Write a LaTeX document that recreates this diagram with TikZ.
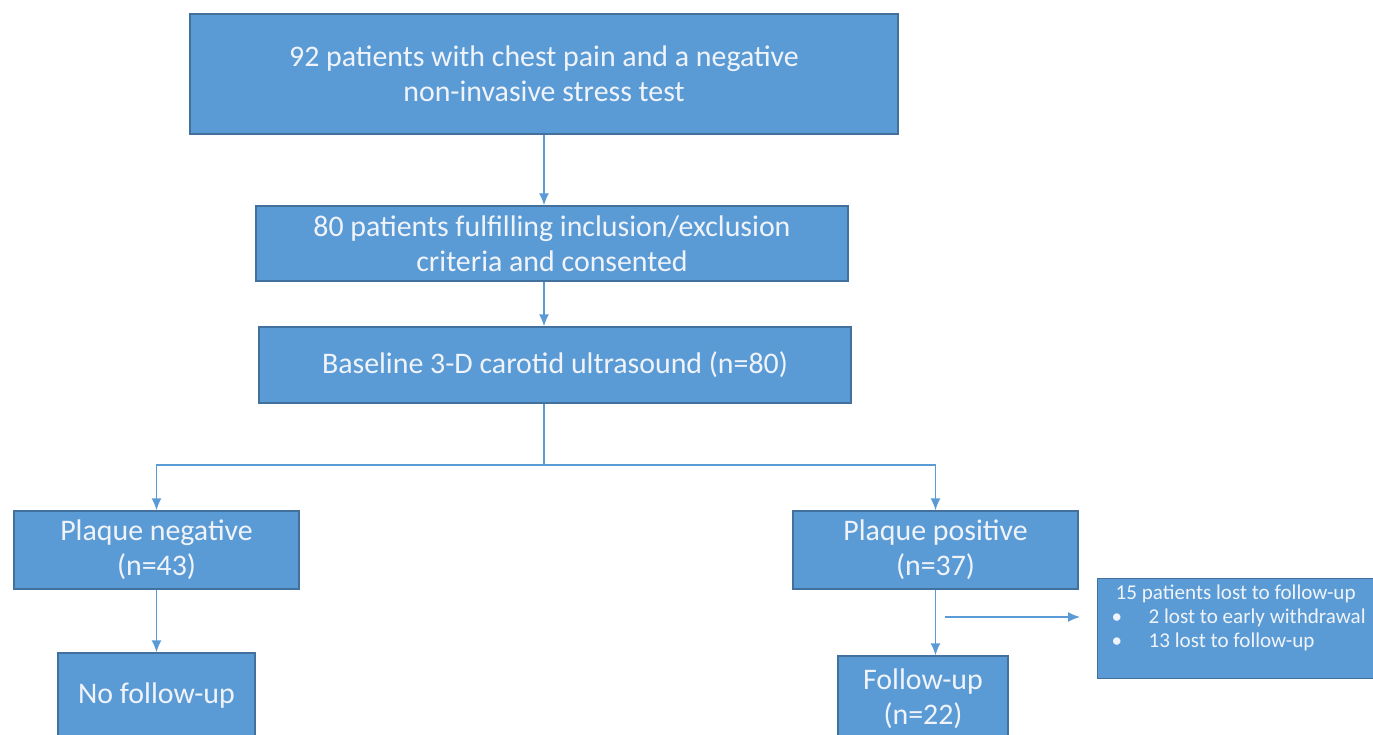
\documentclass[tikz,border=0pt]{standalone}
\usepackage{fontspec}
\setmainfont{Carlito}
\usetikzlibrary{arrows.meta}
\definecolor{boxfill}{HTML}{5B9BD5}
\definecolor{boxline}{HTML}{41719C}
\definecolor{boxtext}{HTML}{F0F4FA}
\definecolor{flowline}{HTML}{5B9BD5}
\begin{document}
\begin{tikzpicture}[
 line width=0.8pt,
 >={Latex[length=2.4mm,width=2mm]},
 align=center,
 inner sep=1mm,
 box/.style={draw=boxline,fill=boxfill,rectangle,text=boxtext,font=\fontsize{17}{20}\selectfont},
 lostbox/.style={draw=boxline,fill=boxfill,rectangle,text=boxtext,inner sep=0pt,font=\fontsize{12}{13.6}\selectfont},
 flow/.style={draw=flowline,->}
]
\clip (0,0) rectangle (27.46,-14.7);
\fill [white] (0,0) rectangle (27.46,-14.7);
% main column
\node (patients-box) [box,minimum width=14.16cm,minimum height=2.4cm] at (10.88,-1.48) {92 patients with chest pain and a negative\\non-invasive stress test};
\node (criteria-box) [box,minimum width=11.84cm,minimum height=1.5cm] at (11.04,-4.87) {80 patients fulfilling inclusion/exclusion\\criteria and consented};
\node (baseline-box) [box,minimum width=11.84cm,minimum height=1.52cm] at (11.10,-7.30) {Baseline 3-D carotid ultrasound\ (n=80)};
% two arms
\node (negative-box) [box,minimum width=5.7cm,minimum height=1.56cm] at (3.13,-11.0) {Plaque negative\\(n=43)};
\node (positive-box) [box,minimum width=5.7cm,minimum height=1.56cm] at (18.71,-11.0) {Plaque positive\\(n=37)};
\node (nofollow-box) [box,minimum width=3.94cm,minimum height=1.7cm] at (3.13,-13.91) {No follow-up};
\node (followup-box) [box,minimum width=3.4cm,minimum height=1.7cm] at (18.46,-13.97) {Follow-up\\(n=22)};
\node (lost-box) [lostbox,anchor=north west] at (21.94,-11.56) {\parbox[t][2cm][t]{5.52cm}{\vspace{1.2mm}\centering 15 patients lost to follow-up\par
 \raggedright\makebox[1.02cm][l]{\hspace*{2.8mm}\textbullet}2 lost to early withdrawal\\
 \makebox[1.02cm][l]{\hspace*{2.8mm}\textbullet}13 lost to follow-up}};
% connectors
\coordinate (split) at (10.88,-9.3);
\coordinate (branch) at (18.9,-12.34);
\draw [flow] (patients-box.south) -- (criteria-box.north -| patients-box.south);
\draw [flow] (criteria-box.south -| patients-box.south) -- (baseline-box.north -| patients-box.south);
\draw [draw=flowline] (baseline-box.south -| split) -- (split);
\draw [flow] (split) -| (negative-box.north);
\draw [flow] (split) -| (positive-box.north);
\draw [flow] (negative-box.south) -- (nofollow-box.north);
\draw [flow] (positive-box.south) -- (positive-box.south |- followup-box.north);
\draw [flow,shorten >=0.34cm] (branch) -- (branch -| lost-box.west);
\end{tikzpicture}
\end{document}
